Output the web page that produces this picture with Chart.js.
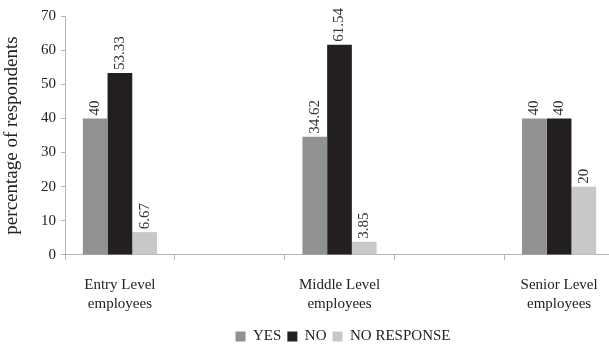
<!DOCTYPE html>
<html>
<head>
<meta charset="utf-8">
<script src="https://cdn.jsdelivr.net/npm/chart.js@4.4.0/dist/chart.umd.min.js"></script>
<style>
    html, body { margin: 0; padding: 0; background: #fff; overflow: hidden; }
    #wrap { position: relative; width: 620px; height: 348px; }
</style>
</head>
<body>
<div id="wrap"><canvas id="chart"></canvas></div>
<script>
const categories = [['Entry Level', 'employees'], '', ['Middle Level', 'employees'], '', ['Senior Level', 'employees']];
const yesValues = [40, null, 34.62, null, 40];
const noValues = [53.33, null, 61.54, null, 40];
const noResponseValues = [6.67, null, 3.85, null, 20];
const yTicks = [0, 10, 20, 30, 40, 50, 60, 70];

const serif = '"Liberation Serif", "Times New Roman", serif';
const axisGray = '#b5b5b5';
const textColor = '#222222';

// value labels written upright above each bar
const barValueLabels = {
    id: 'barValueLabels',
    afterDatasetsDraw(chart) {
        const ctx = chart.ctx;
        ctx.save();
        ctx.font = '15px ' + serif;
        ctx.fillStyle = '#333333';
        ctx.textAlign = 'left';
        ctx.textBaseline = 'middle';
        chart.data.datasets.forEach((ds, i) => {
            chart.getDatasetMeta(i).data.forEach((bar, j) => {
                const v = ds.data[j];
                if (v == null) return;
                ctx.save();
                ctx.translate(bar.x, bar.y - 3);
                ctx.rotate(-Math.PI / 2);
                ctx.fillText(String(v), 0, 0);
                ctx.restore();
            });
        });
        ctx.restore();
    }
};

// the legend sits right of centre and a little lower in the original
const legendShift = {
    id: 'legendShift',
    afterLayout(chart) {
        if (!chart.legend) return;
        chart.legend.left += 36;
        chart.legend.right += 36;
        chart.legend.top += 6;
        chart.legend.bottom += 6;
    }
};

const ctx = document.getElementById('chart').getContext('2d');
new Chart(ctx, {
    type: 'bar',
    data: {
        labels: categories,
        datasets: [
            { label: 'YES', data: yesValues, backgroundColor: '#909193' },
            { label: 'NO', data: noValues, backgroundColor: '#231f20' },
            { label: 'NO RESPONSE', data: noResponseValues, backgroundColor: '#c7c8c9' }
        ]
    },
    options: {
        responsive: true,
        maintainAspectRatio: false,
        animation: false,
        layout: { padding: { top: 16, right: 6, left: 0, bottom: 0 } },
        datasets: {
            bar: { barPercentage: 1, categoryPercentage: 0.675 }
        },
        plugins: {
            legend: {
                position: 'bottom',
                labels: {
                    boxWidth: 10,
                    boxHeight: 10,
                    padding: 6,
                    color: textColor,
                    font: { family: serif, size: 15 }
                }
            },
            tooltip: { enabled: false }
        },
        scales: {
            x: {
                afterFit(scale) { scale.height -= 13; },
                grid: { drawOnChartArea: false, tickLength: 5, color: axisGray, offset: true },
                border: { color: axisGray },
                ticks: {
                    autoSkip: false,
                    maxRotation: 0,
                    padding: 16,
                    color: textColor,
                    font: { family: serif, size: 15, lineHeight: 1.27 }
                }
            },
            y: {
                min: 0,
                max: 70,
                afterFit(scale) { scale.width = 65; },
                afterBuildTicks(scale) { scale.ticks = yTicks.map(v => ({ value: v })); },
                grid: { drawOnChartArea: false, tickLength: 4, color: axisGray },
                border: { color: axisGray },
                ticks: {
                    padding: 5,
                    color: textColor,
                    font: { family: serif, size: 15 }
                },
                title: {
                    display: true,
                    text: 'percentage of respondents',
                    color: textColor,
                    padding: { top: 1, bottom: 0 },
                    font: { family: serif, size: 19 }
                }
            }
        }
    },
    plugins: [barValueLabels, legendShift]
});
</script>
</body>
</html>
